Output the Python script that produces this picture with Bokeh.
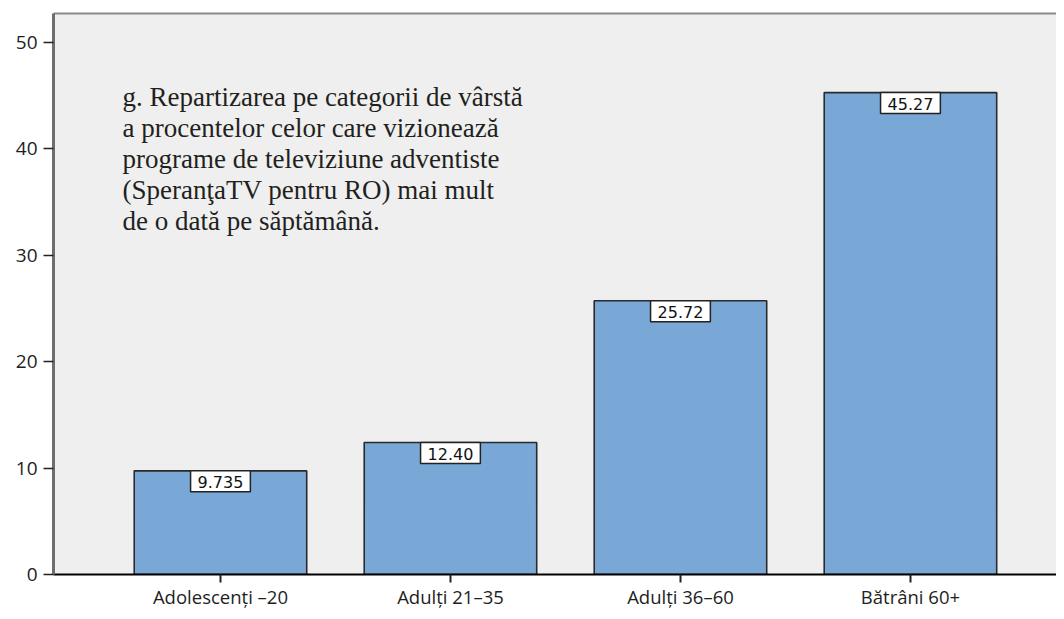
from bokeh.plotting import figure
from bokeh.models import Range1d, FixedTicker, LinearAxis, Label
from bokeh.embed import file_html
from bokeh.resources import INLINE

categories = ["Adolescenți –20", "Adulți 21–35", "Adulți 36–60", "Bătrâni 60+"]
values = [9.735, 12.40, 25.72, 45.27]
value_labels = ["9.735", "12.40", "25.72", "45.27"]
y_ticks = [0, 10, 20, 30, 40, 50]
note = ("g. Repartizarea pe categorii de vârstă\n"
        "a procentelor celor care vizionează\n"
        "programe de televiziune adventiste\n"
        "(SperanţaTV pentru RO) mai mult\n"
        "de o dată pe săptămână.")

xs = list(range(1, len(categories) + 1))

p = figure(width=1056, height=611,
           x_range=Range1d(0.274, 4.635), y_range=Range1d(0, 52.7),
           output_backend="svg", toolbar_location=None,
           min_border_left=53, min_border_right=0, min_border_top=13, min_border_bottom=34,
           background_fill_color="#efefef", border_fill_color="white",
           outline_line_color=None)

p.xgrid.visible = False
p.ygrid.visible = False

p.vbar(x=xs, top=values, width=0.75, fill_color="#79a8d6",
       line_color="#2a2a2a", line_width=1.6)

# axes
xa = p.xaxis[0]
xa.ticker = FixedTicker(ticks=xs)
xa.major_label_overrides = {x: c for x, c in zip(xs, categories)}
xa.axis_line_color = "black"
xa.axis_line_width = 2
xa.major_tick_line_color = "#222222"
xa.major_tick_line_width = 2
xa.major_tick_out = 8
xa.major_tick_in = 0
xa.minor_tick_line_color = None
xa.major_label_standoff = 1
xa.major_label_text_font = "Open Sans"
xa.major_label_text_font_size = "18.5px"
xa.major_label_text_color = "#1e1e1e"

ya = p.yaxis[0]
ya.ticker = FixedTicker(ticks=y_ticks)
ya.axis_line_color = "#6e6e6e"
ya.axis_line_width = 3
ya.major_tick_line_color = "#222222"
ya.major_tick_line_width = 1.5
ya.major_tick_out = 10
ya.major_tick_in = 0
ya.minor_tick_line_color = None
ya.major_label_standoff = 6
ya.major_label_text_font = "Open Sans"
ya.major_label_text_font_size = "19px"
ya.major_label_text_color = "#1e1e1e"

top_axis = LinearAxis(ticker=FixedTicker(ticks=[]), axis_line_color="#8a8a8a",
                      axis_line_width=2, major_tick_line_color=None,
                      minor_tick_line_color=None, major_label_text_font_size="0px",
                      major_tick_out=0, major_label_standoff=0)
p.add_layout(top_axis, "above")

# value labels
for x, v, t in zip(xs, values, value_labels):
    p.add_layout(Label(x=x, y=v, text=t, text_align="center", text_baseline="top",
                       text_font="DejaVu Sans", text_font_size="16px", text_color="#111111",
                       background_fill_color="white", border_line_color="#222222",
                       border_line_width=1.5, padding=dict(left=7, right=7, top=5, bottom=4),
                       y_offset=0))

# note text
p.add_layout(Label(x=0.574, y=46.26, text=note, text_align="left", text_baseline="top",
                   text_font="Liberation Serif", text_font_size="27px",
                   text_color="#231f20", text_line_height=1.03))

open("out.html", "w").write(file_html(p, INLINE))
